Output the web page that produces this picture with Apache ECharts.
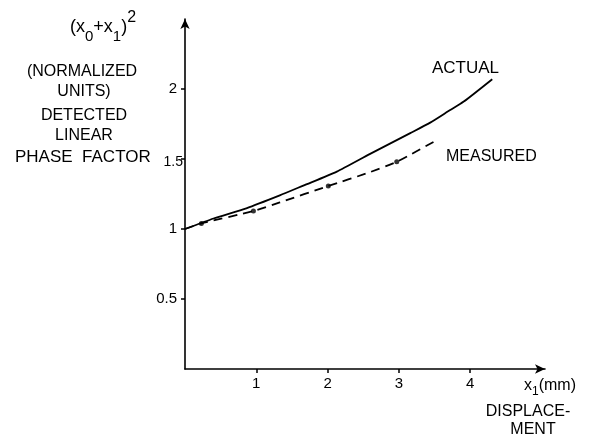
<!DOCTYPE html>
<html>
<head>
  <meta charset="utf-8" />
  <title>Phase factor vs displacement</title>
  <script src="https://cdn.jsdelivr.net/npm/echarts@6/dist/echarts.min.js"></script>
  <style>
    html, body { margin: 0; padding: 0; background: #fff; }
  </style>
</head>
<body>
<div id="main" style="width: 594px;height:440px;"></div>
<script type="text/javascript">
  // displacement x1 (mm) vs (x0+x1)^2, normalized
  var actualCurve = [
    [0, 1.0], [0.4, 1.075], [0.86, 1.148], [1.33, 1.24], [1.66, 1.31],
    [2.13, 1.41], [2.59, 1.535], [3.16, 1.685], [3.44, 1.76],
    [3.72, 1.85], [3.91, 1.91], [4.31, 2.07]
  ];
  var measuredCurve = [
    [0, 1.0], [0.23, 1.04], [0.96, 1.128], [1.33, 1.19], [2.01, 1.307],
    [2.59, 1.405], [2.97, 1.48], [3.55, 1.64]
  ];
  var measuredPoints = [[0.23, 1.04], [0.96, 1.128], [2.01, 1.307], [2.97, 1.48]];
  var xTicks = [1, 2, 3, 4];
  var yTicks = [0.5, 1, 1.5, 2];
  var leftNotes = ['(NORMALIZED', 'UNITS)', 'DETECTED', 'LINEAR'];

  var font = 'Liberation Sans';
  var chartDom = document.getElementById('main');
  var myChart = echarts.init(chartDom);
  var option;

  function txt(str, x, y, size, align) {
    return {
      type: 'text', x: x, y: y,
      style: {
        text: str, fontFamily: font, fontSize: size, fill: '#000',
        textAlign: align || 'center', textVerticalAlign: 'middle'
      }
    };
  }

  var graphics = [
    {
      type: 'text', x: 70, y: 10,
      style: {
        text: '{m|(x}{s|0}{m|+x}{s|1}{m|)}{p|2}',
        rich: {
          m: { fontFamily: font, fontSize: 18, fill: '#000', lineHeight: 34, verticalAlign: 'middle' },
          s: { fontFamily: font, fontSize: 15, fill: '#000', lineHeight: 34, verticalAlign: 'bottom' },
          p: { fontFamily: font, fontSize: 16, fill: '#000', lineHeight: 34, verticalAlign: 'top' }
        }
      }
    },
    txt('PHASE  FACTOR', 15, 157, 17, 'left'),
    txt('ACTUAL', 432, 68, 17, 'left'),
    txt('MEASURED', 446, 157, 16, 'left'),
    {
      type: 'text', x: 524, y: 374,
      style: {
        text: '{m|x}{s|1}{m|(mm)}',
        rich: {
          m: { fontFamily: font, fontSize: 16, fill: '#000', lineHeight: 24, verticalAlign: 'middle' },
          s: { fontFamily: font, fontSize: 12, fill: '#000', lineHeight: 24, verticalAlign: 'bottom' }
        }
      }
    },
    txt('DISPLACE-', 528, 412, 16),
    txt('MENT', 533, 430, 16)
  ];
  var noteY = [72, 92, 116, 136];
  for (var i = 0; i < leftNotes.length; i++) {
    graphics.push(txt(leftNotes[i], i < 1 ? 82 : 84, noteY[i], 16));
  }

  option = {
    animation: false,
    backgroundColor: '#fff',
    grid: { left: 185, right: 49, top: 19, bottom: 71 },
    xAxis: {
      type: 'value',
      min: 0,
      max: 5.05,
      splitLine: { show: false },
      axisLine: {
        lineStyle: { color: '#000', width: 1.6 },
        symbol: ['none', 'arrow'],
        symbolSize: [7, 10]
      },
      axisTick: { customValues: xTicks, length: 4, lineStyle: { color: '#000', width: 1.5 } },
      axisLabel: {
        customValues: xTicks,
        color: '#000', fontFamily: font, fontSize: 15, margin: 7
      }
    },
    yAxis: {
      type: 'value',
      min: 0,
      max: 2.5,
      splitLine: { show: false },
      axisLine: {
        lineStyle: { color: '#000', width: 1.6 },
        symbol: ['none', 'arrow'],
        symbolSize: [7, 10]
      },
      axisTick: { customValues: yTicks, length: 4, lineStyle: { color: '#000', width: 1.5 } },
      axisLabel: {
        customValues: yTicks,
        color: '#000', fontFamily: font, fontSize: 15, margin: 8,
        formatter: function (v) {
          return v === 1.5 ? '{n|1.5}' : String(v);
        },
        rich: {
          n: { fontFamily: font, fontSize: 14, color: '#000', padding: [6, -6, 0, 0] }
        }
      }
    },
    graphic: graphics,
    series: [
      {
        name: 'ACTUAL',
        type: 'line',
        data: actualCurve,
        smooth: 0.2,
        showSymbol: false,
        lineStyle: { color: '#000', width: 1.8 }
      },
      {
        name: 'MEASURED',
        type: 'line',
        data: measuredCurve,
        smooth: 0.2,
        showSymbol: false,
        lineStyle: { color: '#000', width: 1.8, type: [9, 6] }
      },
      {
        name: 'points',
        type: 'scatter',
        data: measuredPoints,
        symbolSize: 5,
        itemStyle: { color: '#000' }
      }
    ]
  };

  option && myChart.setOption(option);
</script>
</body>
</html>
